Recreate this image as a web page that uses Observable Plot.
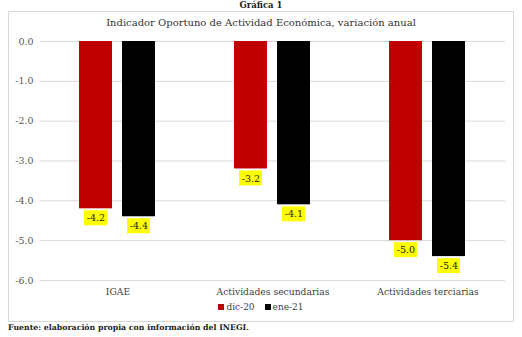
<!DOCTYPE html>
<html><head><meta charset="utf-8">
<script src="https://cdn.jsdelivr.net/npm/d3@7"></script>
<script src="https://cdn.jsdelivr.net/npm/@observablehq/plot@0.6"></script>
<style>
body{margin:0;background:#fff;font-family:"DejaVu Serif",serif;}
#page{position:relative;width:522px;height:337px;overflow:hidden;}
#sup{position:absolute;top:0;left:0;width:522px;text-align:center;font-size:8.5px;font-weight:bold;color:#222;line-height:11px;}
#box{position:absolute;left:8px;top:11px;width:506px;height:311px;border:1px solid #d9d9d9;box-sizing:border-box;}
#title{position:absolute;top:17px;left:0;width:522px;text-align:center;font-size:10px;color:#333;}
#chart{position:absolute;left:0;top:30px;}
#chart svg text{font-family:"DejaVu Serif",serif;}
#legend{position:absolute;top:302px;left:0;width:522px;text-align:center;font-size:9px;color:#404040;}
#legend span.sw{display:inline-block;width:6px;height:6px;margin-right:2px;vertical-align:0px;}
#legend span.it{margin:0 5px;}
#foot{position:absolute;top:323px;left:8px;font-size:7.8px;font-weight:bold;color:#222;}
</style></head>
<body>
<div id="page">
  <div id="sup">Gráfica 1</div>
  <div id="box"></div>
  <div id="title">Indicador Oportuno de Actividad Económica, variación anual</div>
  <div id="chart"></div>
  <div id="legend"></div>
  <div id="foot">Fuente: elaboración propia con información del INEGI.</div>
</div>
<script>
const categories = ["IGAE", "Actividades secundarias", "Actividades terciarias"];
const series = ["dic-20", "ene-21"];
const dic20 = [-4.2, -3.2, -5.0];
const ene21 = [-4.4, -4.1, -5.4];
const yTicks = [0, -1, -2, -3, -4, -5, -6];
const colors = ["#c00000", "#000000"];

const rows = [];
categories.forEach((c, i) => {
  rows.push({cat: c, series: series[0], v: dic20[i]});
  rows.push({cat: c, series: series[1], v: ene21[i]});
});
const fmt = d => d.toFixed(1);
const serif = "DejaVu Serif, serif";

const chart = Plot.plot({
  width: 522,
  height: 270,
  marginTop: 11,
  marginBottom: 20,
  marginLeft: 40,
  marginRight: 17,
  style: {fontFamily: serif, fontSize: "10px", color: "#404040", background: "transparent"},
  fx: {domain: categories, padding: 0, label: null},
  x: {domain: series, paddingInner: 0.227, paddingOuter: 0.875, axis: null},
  y: {domain: [-6, 0], axis: null, label: null},
  color: {domain: series, range: colors},
  marks: [
    Plot.gridY(yTicks, {stroke: "#d9d9d9", strokeOpacity: 1}),
    Plot.axisY(yTicks, {anchor: "left", tickSize: 0, tickPadding: 7, tickFormat: fmt, fontSize: 9.5, fontFamily: serif, fill: "#595959", label: null, facetAnchor: "left"}),
    Plot.axisFx({anchor: "bottom", tickSize: 0, tickPadding: 8, fontSize: 9.2, fontFamily: serif, fill: "#404040", label: null}),
    Plot.barY(rows, {fx: "cat", x: "series", y: "v", fill: "series"}),
    Plot.barY(rows, {fx: "cat", x: "series", y1: "v", y2: "v", fill: "#ffff00", insetLeft: 5, insetRight: 5, insetTop: -7.5, insetBottom: -7.5, dy: 9.5}),
    Plot.text(rows, {fx: "cat", x: "series", y: "v", text: d => fmt(d.v), dy: 9.5, fill: "#222", fontSize: 9.5, fontFamily: serif})
  ]
});
document.getElementById("chart").appendChild(chart);

const leg = document.getElementById("legend");
series.forEach((s, i) => {
  const it = document.createElement("span");
  it.className = "it";
  it.innerHTML = `<span class="sw" style="background:${colors[i]}"></span>${s}`;
  leg.appendChild(it);
});
</script>
</body></html>
